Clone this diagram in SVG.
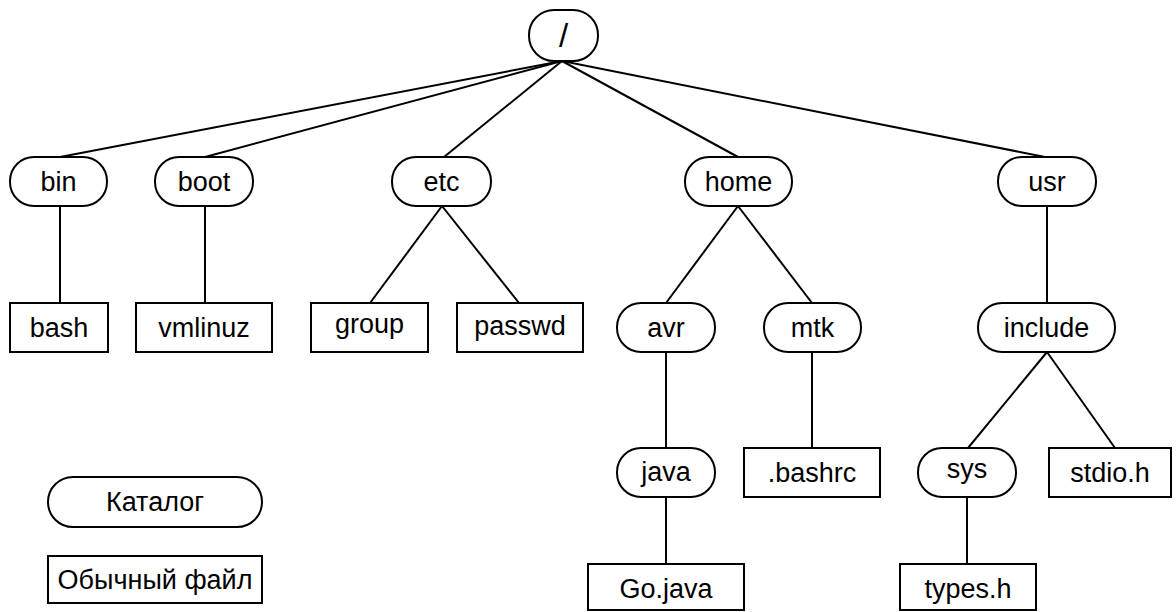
<svg xmlns="http://www.w3.org/2000/svg" width="1176" height="612" viewBox="0 0 1176 612">
<style>
.d{fill:#fff;stroke:#000;stroke-width:2}
.f{fill:#fff;stroke:#000;stroke-width:2}
.c line{stroke:#000;stroke-width:2}
text{font-family:"Liberation Sans",Arial,sans-serif;font-size:27px;fill:#000;text-anchor:middle}
</style>
<rect width="1176" height="612" fill="#fff"/>
<g class="c" id="connectors">
<line x1="562" y1="61" x2="60" y2="157"/>
<line x1="562" y1="61" x2="205" y2="157"/>
<line x1="562" y1="61" x2="444" y2="157"/>
<line x1="562" y1="61" x2="738" y2="157"/>
<line x1="562" y1="61" x2="1045" y2="157"/>
<line x1="60" y1="206" x2="60" y2="303"/>
<line x1="205" y1="206" x2="205" y2="303"/>
<line x1="442" y1="206" x2="370" y2="303"/>
<line x1="442" y1="206" x2="519" y2="303"/>
<line x1="738" y1="206" x2="666" y2="303"/>
<line x1="738" y1="206" x2="812" y2="303"/>
<line x1="1047" y1="206" x2="1047" y2="303"/>
<line x1="666" y1="352" x2="666" y2="448"/>
<line x1="812" y1="352" x2="812" y2="448"/>
<line x1="1047" y1="352" x2="968" y2="448"/>
<line x1="1047" y1="352" x2="1115" y2="448"/>
<line x1="666" y1="497" x2="666" y2="564"/>
<line x1="967" y1="497" x2="967" y2="564"/>
</g>
<g id="root"><rect class="d" x="529" y="10" width="69" height="51" rx="25"/><text x="563.5" y="47" style="font-size:33px">/</text></g>
<g id="bin"><rect class="d" x="10" y="157" width="97" height="49" rx="24"/><text x="58.5" y="191">bin</text></g>
<g id="boot"><rect class="d" x="155" y="157" width="98" height="49" rx="24"/><text x="204" y="191">boot</text></g>
<g id="etc"><rect class="d" x="392" y="157" width="99" height="49" rx="24"/><text x="441.5" y="191">etc</text></g>
<g id="home"><rect class="d" x="685" y="157" width="107" height="49" rx="24"/><text x="738.5" y="191">home</text></g>
<g id="usr"><rect class="d" x="998" y="157" width="98" height="49" rx="24"/><text x="1047" y="191">usr</text></g>
<g id="bash"><rect class="f" x="10" y="303" width="98" height="49"/><text x="59" y="337">bash</text></g>
<g id="vmlinuz"><rect class="f" x="136" y="303" width="136" height="49"/><text x="204" y="337">vmlinuz</text></g>
<g id="group"><rect class="f" x="311" y="303" width="117" height="49"/><text x="369.5" y="333">group</text></g>
<g id="passwd"><rect class="f" x="457" y="303" width="126" height="49"/><text x="520" y="335">passwd</text></g>
<g id="avr"><rect class="d" x="617" y="303" width="98" height="49" rx="24"/><text x="666" y="337">avr</text></g>
<g id="mtk"><rect class="d" x="764" y="303" width="97" height="49" rx="24"/><text x="812.5" y="337">mtk</text></g>
<g id="include"><rect class="d" x="978" y="303" width="137" height="49" rx="24"/><text x="1046.5" y="337">include</text></g>
<g id="java"><rect class="d" x="617" y="448" width="98" height="49" rx="24"/><text x="666" y="481">java</text></g>
<g id="bashrc"><rect class="f" x="744" y="448" width="136" height="49"/><text x="812" y="482">.bashrc</text></g>
<g id="sys"><rect class="d" x="918" y="448" width="98" height="49" rx="24"/><text x="967" y="478">sys</text></g>
<g id="stdio"><rect class="f" x="1049" y="448" width="122" height="49"/><text x="1110" y="482">stdio.h</text></g>
<g id="gojava"><rect class="f" x="588" y="564" width="156" height="46"/><text x="666" y="598">Go.java</text></g>
<g id="types"><rect class="f" x="900" y="564" width="136" height="46"/><text x="968" y="598">types.h</text></g>
<g id="legend-dir"><rect class="d" x="48" y="477" width="214" height="50" rx="25"/><text x="155" y="511">Каталог</text></g>
<g id="legend-file"><rect class="f" x="48" y="556" width="214" height="47"/><text x="155" y="589">Обычный файл</text></g>
</svg>
